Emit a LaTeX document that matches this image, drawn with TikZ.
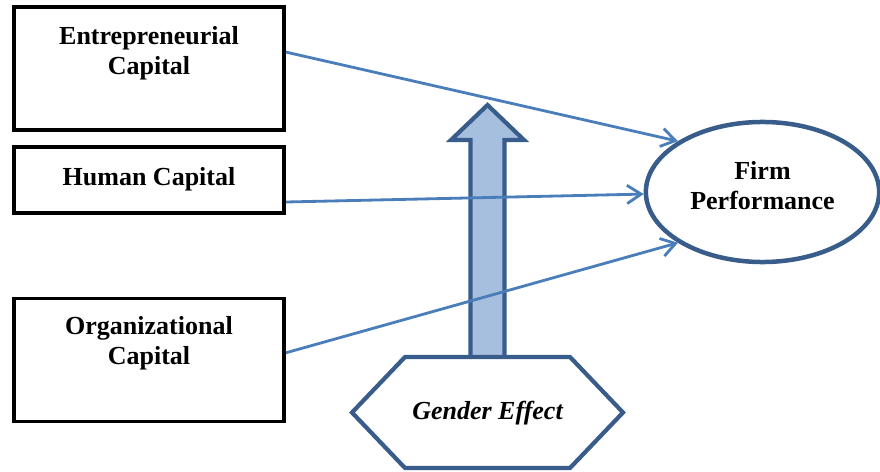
\documentclass[tikz,border=0pt]{standalone}
\usepackage{fontspec}
\setmainfont{Liberation Serif}
\usetikzlibrary{shapes.geometric,arrows.meta}
\definecolor{linkblue}{HTML}{4A7EBB}
\definecolor{darkblue}{HTML}{385D8A}
\definecolor{lightblue}{HTML}{A7BFDE}
\tikzstyle{capital}=[draw=black,line width=2.6pt,align=center,minimum width=6.75cm,font=\fontsize{18.5}{21.5}\selectfont\bfseries]
\tikzstyle{outcome}=[ellipse,draw=darkblue,line width=3.2pt,align=center,minimum width=5.83cm,minimum height=3.5cm,font=\fontsize{18.5}{21}\selectfont\bfseries]
\tikzstyle{moderator}=[draw=darkblue,line width=3pt,line join=miter]
\tikzstyle{link}=[draw=linkblue,line width=2pt,-{Straight Barb[length=10pt,width=13pt]}]

\begin{document}
\begin{tikzpicture}[x=0.025cm,y=-0.025cm]
\useasboundingbox (0,0) rectangle (880,472);
% capitals
  \node[capital,minimum height=3.09cm] (ec) at (149,68.5) {Entrepreneurial\\Capital\\[4pt]~};
  \node[capital,minimum height=1.65cm] (hc) at (149,180) {Human Capital\\[-16pt]\mbox{}};
  \node[capital,minimum height=3.08cm] (oc) at (149,360) {Organizational\\Capital\\[6pt]~};
% performance
  \node[outcome] (fp) at (762.5,192) {Firm\\Performance\\[-12pt]\mbox{}};
% gender effect
  \draw[moderator,fill=lightblue] (470.5,357) -- (470.5,140) -- (451,140) -- (487.5,105)
    -- (524,140) -- (504.5,140) -- (504.5,357);
  \draw[moderator] (352,412.5) -- (405,357) -- (570,357) -- (623,412.5) -- (570,468)
    -- (405,468) -- cycle;
  \node[font=\fontsize{18.5}{21.5}\selectfont\bfseries\itshape] (ge) at (487.5,413) {Gender Effect};
% links
  \draw[link] ([yshift=0.41cm]ec.east) -- (fp.149);
  \draw[link] ([yshift=-0.55cm]hc.east) -- (fp.181);
  \draw[link] ([yshift=0.18cm]oc.east) -- (fp.211);
\end{tikzpicture}
\end{document}
